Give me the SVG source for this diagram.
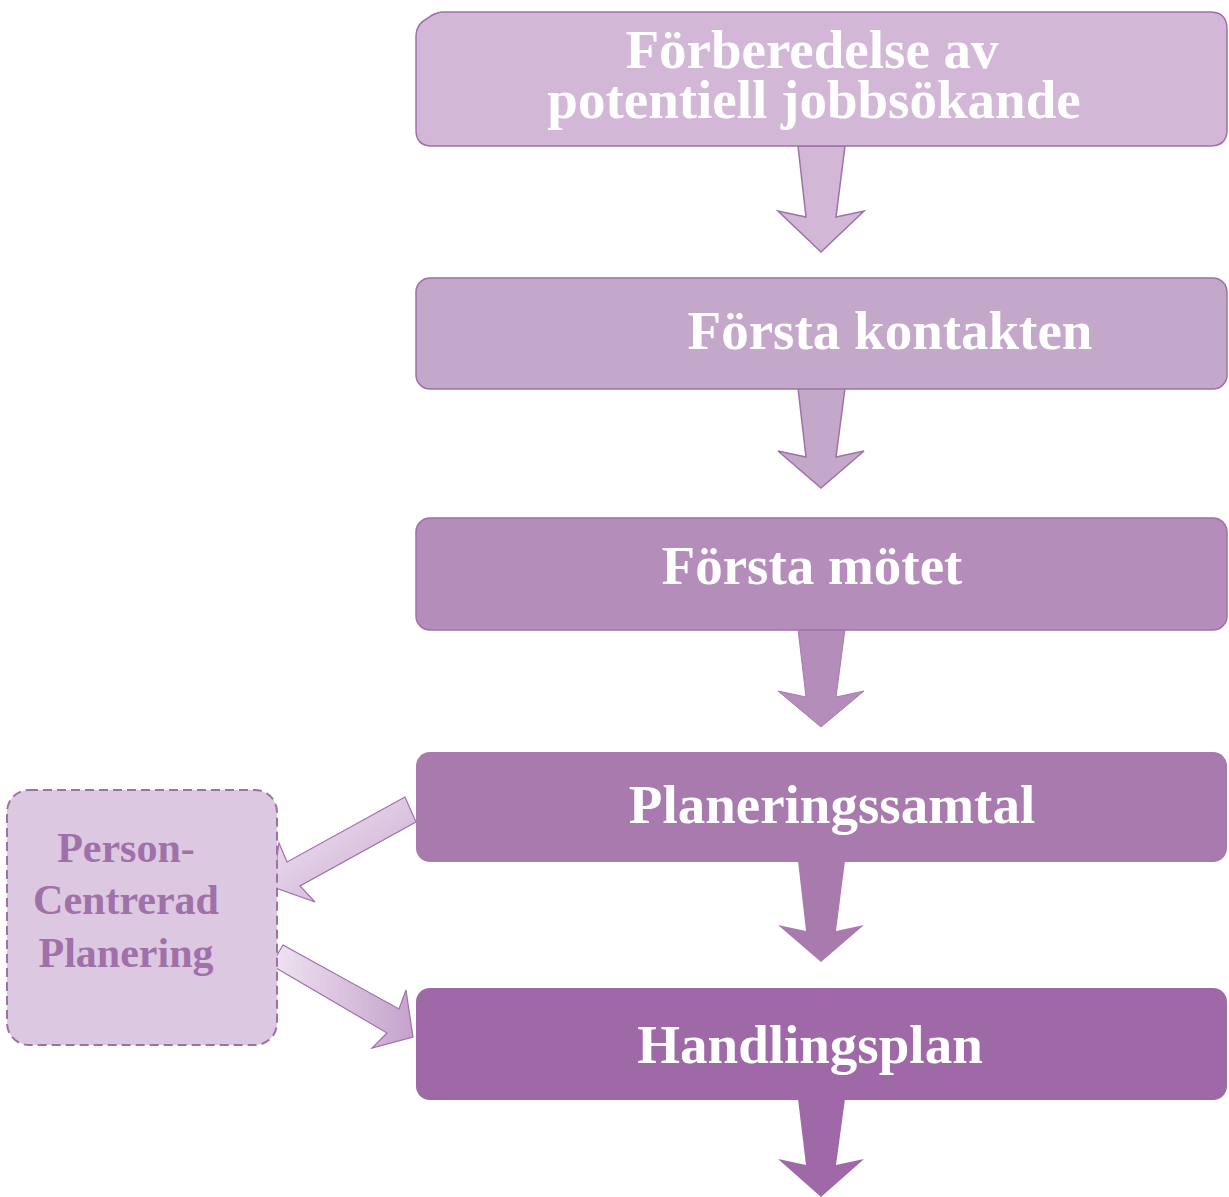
<svg xmlns="http://www.w3.org/2000/svg" width="1229" height="1197" viewBox="0 0 1229 1197">
<defs>
<style>
.t{font-family:"Liberation Serif","Times New Roman",serif;font-weight:bold;font-size:55px;fill:#ffffff;text-anchor:middle}
.s{font-family:"Liberation Serif","Times New Roman",serif;font-weight:bold;font-size:42px;fill:#a070aa;text-anchor:middle}
.box{stroke:#a070aa;stroke-width:1.5}
</style>
<linearGradient id="ga" x1="0" y1="0" x2="1" y2="1">
<stop offset="0" stop-color="#f2e8f4"/>
<stop offset="1" stop-color="#c8a8d0"/>
</linearGradient>
<linearGradient id="gb" x1="0" y1="0" x2="1" y2="0">
<stop offset="0" stop-color="#f0e4f2"/>
<stop offset="1" stop-color="#c4a2cc"/>
</linearGradient>
</defs>
<rect width="1229" height="1197" fill="#ffffff"/>
<g id="connectors">
<path d="M798,146 L845,146 L836,217 L864,211 L821,252 L778,211 L806,217 Z" fill="#d2b8d6" stroke="#a070aa" stroke-width="1.5"/>
<path d="M798,388 L845,388 L836,457 L864,451 L821,488 L778,451 L806,457 Z" fill="#c4a8ca" stroke="#a070aa" stroke-width="1.5"/>
<path d="M798,629 L845,629 L836,697 L864,691 L821,727 L778,691 L806,697 Z" fill="#b48dbb" stroke="#a87aad" stroke-width="1"/>
<path d="M798,861 L845,861 L836,931 L864,925 L821,962 L778,925 L806,931 Z" fill="#a87aad"/>
<path d="M798,1099 L845,1099 L836,1165 L864,1159 L821,1197 L778,1159 L806,1165 Z" fill="#9f69a8"/>
<path d="M405,797 L287,862 L279,843 L273,887 L315,902 L300,886 L416,822 Z" fill="url(#ga)" stroke="#a070aa" stroke-width="1.2"/>
<path d="M283,945 L399,1009 L406,990 L413,1037 L372,1048 L387,1033 L271,965 Z" fill="url(#gb)" stroke="#a070aa" stroke-width="1.2"/>
</g>
<g id="node1">
<path class="box" d="M442,12 L1210,12 Q1227,12 1227,29 L1227,130 Q1227,146 1210,146 L432,146 Q416,146 416,130 L416,36 Q416,24 428,18 Q434,13 442,12 Z" fill="#d2b8d6"/>
<text class="t" x="812" y="68">Förberedelse av</text>
<text class="t" x="814" y="118">potentiell jobbsökande</text>
</g>
<g id="node2">
<rect class="box" x="416" y="278" width="811" height="111" rx="14" fill="#c4a8ca"/>
<text class="t" x="890" y="349">Första kontakten</text>
</g>
<g id="node3">
<rect class="box" x="416" y="518" width="811" height="112" rx="14" fill="#b48dbb" stroke="#a87aad"/>
<text class="t" x="812" y="584">Första mötet</text>
</g>
<g id="node4">
<rect x="416" y="752" width="811" height="110" rx="14" fill="#a87aad"/>
<text class="t" x="832" y="823">Planeringssamtal</text>
</g>
<g id="node5">
<rect x="416" y="988" width="811" height="112" rx="14" fill="#9f69a8"/>
<text class="t" x="810" y="1063">Handlingsplan</text>
</g>
<g id="side">
<rect x="7" y="790" width="270" height="255" rx="22" fill="#dcc8e0" stroke="#a070aa" stroke-width="2" stroke-dasharray="9,5"/>
<text class="s" x="126" y="862">Person-</text>
<text class="s" x="126" y="914">Centrerad</text>
<text class="s" x="126" y="967">Planering</text>
</g>
</svg>
